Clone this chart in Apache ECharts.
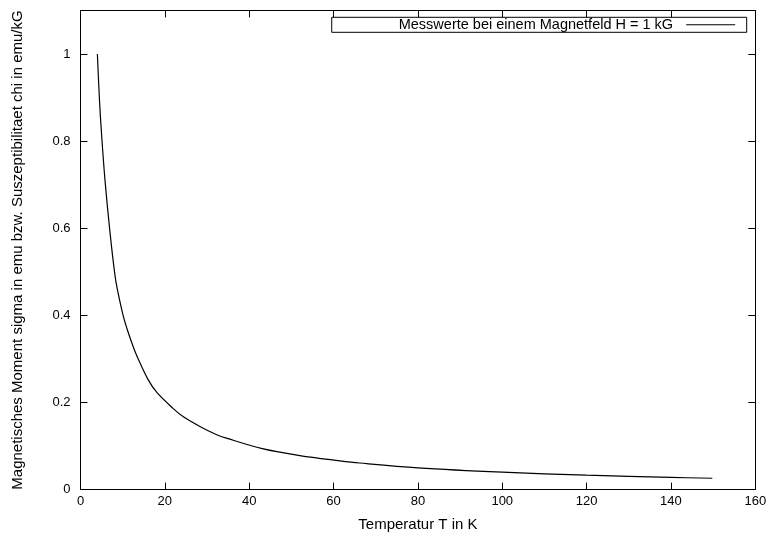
<!DOCTYPE html>
<html>
<head>
<meta charset="utf-8">
<title>Suszeptibilitaet</title>
<script src="https://cdn.jsdelivr.net/npm/echarts@6/dist/echarts.min.js"></script>
<style>
  html, body { margin: 0; padding: 0; background: #fff; }
  #chart { width: 772px; height: 540px; }
</style>
</head>
<body>
<div id="chart"></div>
<script>
// Temperatur in K
const temperature = [4.0, 4.5, 5.0, 5.8, 7.0, 8.2, 8.9, 10.1, 11.1, 12.5, 13.4, 16.0, 18.1, 22.0, 24.4, 28.3, 32.3, 34.6, 43.1, 52.0, 61.5, 66.2, 80, 100, 120, 140, 149.8];
// Suszeptibilitaet chi in emu/kG
const chi = [1.000, 0.894, 0.815, 0.711, 0.590, 0.490, 0.452, 0.400, 0.367, 0.328, 0.306, 0.253, 0.223, 0.186, 0.167, 0.145, 0.126, 0.118, 0.094, 0.078, 0.066, 0.061, 0.050, 0.040, 0.033, 0.028, 0.026];

const xTicks = { min: 0, max: 160, interval: 20 };
const yTicks = { min: 0, max: 1.1, interval: 0.2 };

const seriesName = 'Messwerte bei einem Magnetfeld H = 1 kG';
const xName = 'Temperatur T in K';
const yName = 'Magnetisches Moment sigma in emu bzw. Suszeptibilitaet chi in emu/kG';

const FONT = "'Liberation Sans', Arial, Helvetica, sans-serif";
const black = '#000';

const points = temperature.map((t, i) => [t, chi[i]]);

const baseAxis = {
  axisLine: { show: true, onZero: false, lineStyle: { color: black, width: 1 } },
  axisTick: { show: true, inside: true, length: 7, lineStyle: { color: black, width: 1 } },
  splitLine: { show: false },
  axisLabel: { color: black, fontFamily: FONT, fontSize: 13 }
};

const chart = echarts.init(document.getElementById('chart'), null, { renderer: 'canvas' });
chart.setOption({
  animation: false,
  backgroundColor: '#fff',
  textStyle: { fontFamily: FONT },
  grid: { left: 80.5, right: 16.7, top: 10.4, bottom: 50.4, containLabel: false, outerBoundsMode: 'none' },
  legend: {
    data: [seriesName],
    right: 25.3,
    top: 17.3,
    align: 'right',
    orient: 'horizontal',
    icon: 'rect',
    itemWidth: 49,
    itemHeight: 1,
    padding: [0, 11.5, 0, 67],
    borderColor: black,
    borderWidth: 1,
    borderRadius: 0,
    formatter: (name) => name + '  ',
    textStyle: { color: black, fontFamily: FONT, fontSize: 14.5, lineHeight: 13.4 }
  },
  xAxis: [
    Object.assign({}, baseAxis, {
      type: 'value', position: 'bottom',
      min: xTicks.min, max: xTicks.max, interval: xTicks.interval,
      name: xName, nameLocation: 'middle', nameGap: 28,
      nameTextStyle: { color: black, fontFamily: FONT, fontSize: 15 },
      axisLabel: Object.assign({}, baseAxis.axisLabel, { margin: 5 })
    }),
    Object.assign({}, baseAxis, {
      type: 'value', position: 'top',
      min: xTicks.min, max: xTicks.max, interval: xTicks.interval,
      axisLabel: { show: false }
    })
  ],
  yAxis: [
    Object.assign({}, baseAxis, {
      type: 'value', position: 'left',
      min: yTicks.min, max: yTicks.max, interval: yTicks.interval,
      name: yName, nameLocation: 'middle', nameGap: 55,
      nameTextStyle: { color: black, fontFamily: FONT, fontSize: 15 },
      axisLabel: Object.assign({}, baseAxis.axisLabel, {
        margin: 10, showMaxLabel: false,
        formatter: (v) => String(Math.round(v * 10) / 10)
      })
    }),
    Object.assign({}, baseAxis, {
      type: 'value', position: 'right',
      min: yTicks.min, max: yTicks.max, interval: yTicks.interval,
      axisLabel: { show: false }
    })
  ],
  series: [{
    name: seriesName,
    type: 'line',
    xAxisIndex: 0,
    yAxisIndex: 0,
    data: points,
    symbol: 'none',
    smooth: 0.35,
    lineStyle: { color: black, width: 1.2 },
    itemStyle: { color: black }
  }]
});
</script>
</body>
</html>
